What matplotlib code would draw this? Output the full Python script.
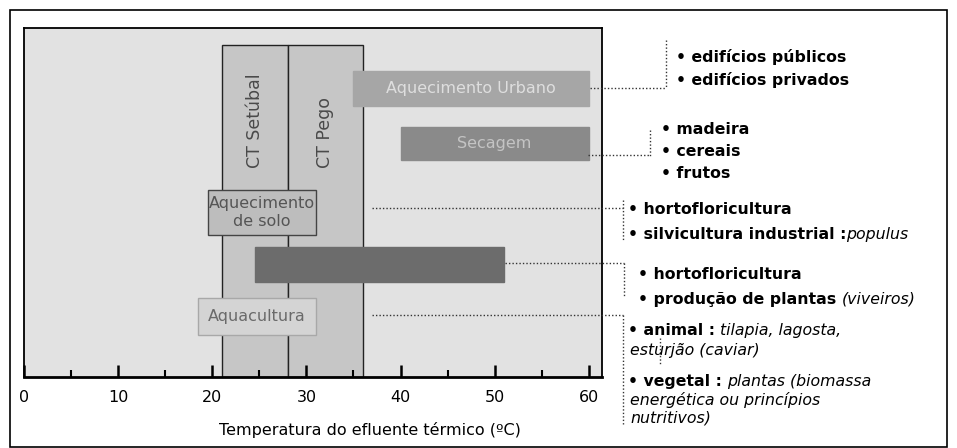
import matplotlib.pyplot as plt
from matplotlib.patches import Rectangle

# faixas de temperatura (ºC) de cada utilização
bar_labels = ["Aquecimento Urbano", "Secagem", "Aquecimento\nde solo", "", "Aquacultura"]
bar_start = [35, 40, 19.5, 24.5, 18.5]
bar_end = [60, 60, 31, 51, 31]
bar_y = [8.27, 6.69, 4.71, 3.22, 1.73]   # linha (centro) de cada faixa
bar_h = [1.0, 0.95, 1.29, 1.0, 1.06]

# temperatura do efluente das centrais
plant_labels = ["CT Setúbal", "CT Pego"]
plant_start = [21, 28]
plant_end = [28, 36]
plant_top = 9.5

xticks = [0, 10, 20, 30, 40, 50, 60]
xminor = [5, 15, 25, 35, 45, 55]

W, H = 957, 448
fig = plt.figure(figsize=(W / 100, H / 100), dpi=100)
fig.patch.set_facecolor("white")

def fx(px):
    return px / W

def fy(py):
    return 1 - py / H

# moldura exterior
fig.add_artist(Rectangle((fx(10), fy(447)), fx(937), 437 / H, transform=fig.transFigure,
                         fill=False, edgecolor="black", lw=1.2))

ax = fig.add_axes([fx(24), fy(377), fx(578), 349 / H])
ax.set_facecolor("#e2e2e2")
ax.set_xlim(0, 61.4)
ax.set_ylim(0, 10)

# colunas das centrais
for lab, s, e in zip(plant_labels, plant_start, plant_end):
    ax.bar(s, plant_top, width=e - s, align="edge", color="#c6c6c6", edgecolor="#222222", lw=1.0, zorder=1)
    ax.text((s + e) / 2, 6.0, lab, rotation=90, ha="center", va="bottom",
            fontsize=12.5, color="#4a4a4a", zorder=5)

# faixas das utilizações
styles = [
    dict(color="#a6a6a6", edgecolor="#a6a6a6", tc="#dedede"),
    dict(color="#8a8a8a", edgecolor="#8a8a8a", tc="#c4c4c4"),
    dict(color="#bdbdbd", edgecolor="#444444", tc="#555555"),
    dict(color="#6c6c6c", edgecolor="#6c6c6c", tc="#6c6c6c"),
    dict(color="#d4d4d4", edgecolor="#a8a8a8", tc="#6a6a6a"),
]
for lab, s, e, y, h, st in zip(bar_labels, bar_start, bar_end, bar_y, bar_h, styles):
    ax.barh(y, e - s, left=s, height=h, color=st["color"], edgecolor=st["edgecolor"], lw=1.0, zorder=3)
    if lab:
        ax.text((s + e) / 2, y, lab, ha="center", va="center", fontsize=11.5,
                color=st["tc"], linespacing=1.3, zorder=5)

for sp in ax.spines.values():
    sp.set_color("black")
    sp.set_linewidth(1.3)
ax.spines["bottom"].set_linewidth(2.0)
ax.spines["bottom"].set_zorder(6)

ax.set_xticks(xticks)
ax.set_xticks(xminor, minor=True)
ax.set_yticks([])
ax.tick_params(axis="x", which="major", direction="in", length=8.5, width=1.8, labelsize=11.5, pad=9)
ax.tick_params(axis="x", which="minor", direction="in", length=5, width=1.5)
ax.set_xlabel("Temperatura do efluente térmico (ºC)", fontsize=11.5)
ax.xaxis.set_label_coords((370 - 24) / 578, -(430 - 377) / 349, transform=ax.transAxes)
ax.xaxis.label.set_va("center")

# ligações pontilhadas e textos à direita
def dotted(xs, ys):
    fig.add_artist(plt.Line2D([fx(x) for x in xs], [fy(y) for y in ys], transform=fig.transFigure,
                              color="#333333", lw=1.0, ls=(0, (1, 1.5))))

dotted([590, 666], [88, 88]); dotted([666, 666], [40, 88])
dotted([588, 650], [155, 155]); dotted([650, 650], [130, 157])
dotted([372, 623], [208, 208]); dotted([623, 623], [200, 240])
dotted([505, 624], [263, 263]); dotted([624, 624], [263, 296])
dotted([372, 623], [315, 315]); dotted([623, 623], [315, 424])
dotted([660, 660], [338, 364])

renderer = fig.canvas.get_renderer()

def label(px, py, parts, size=11.3):
    x = fx(px)
    for txt, weight, style in parts:
        t = fig.text(x, fy(py), txt, fontsize=size, fontweight=weight, fontstyle=style,
                     ha="left", va="center", color="black")
        bb = t.get_window_extent(renderer=renderer)
        x += bb.width / W

B = ("bold", "normal")
I = ("normal", "italic")

label(676, 57, [("• edifícios públicos", *B)])
label(676, 80, [("• edifícios privados", *B)])
label(661, 129, [("• madeira", *B)])
label(661, 152, [("• cereais", *B)])
label(661, 173, [("• frutos", *B)])
label(628, 209, [("• hortofloricultura", *B)])
label(628, 234, [("• silvicultura industrial :", *B), ("populus", *I)])
label(638, 274, [("• hortofloricultura", *B)])
label(638, 299, [("• produção de plantas ", *B), ("(viveiros)", *I)])
label(628, 330, [("• animal : ", *B), ("tilapia, lagosta,", *I)])
label(630, 350, [("esturjão (caviar)", *I)])
label(628, 381, [("• vegetal : ", *B), ("plantas (biomassa", *I)])
label(630, 400, [("energética ou princípios", *I)])
label(630, 418, [("nutritivos)", *I)])

fig.savefig("out.png", dpi=100)
